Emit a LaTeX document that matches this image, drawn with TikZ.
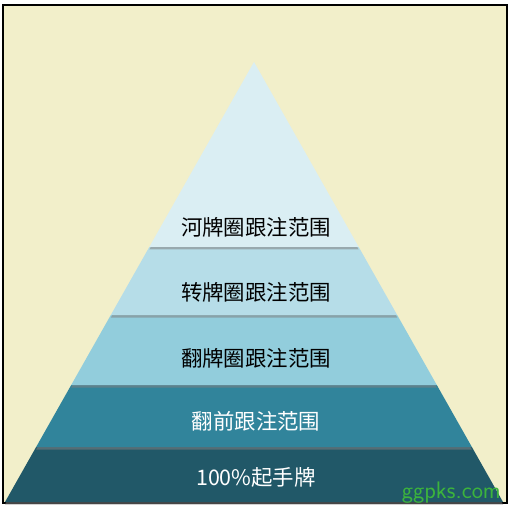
\documentclass[tikz,border=0pt]{standalone}
\usepackage{fontspec}
\newfontfamily\cjk{Noto Sans CJK SC}
\usetikzlibrary{calc,shadows}

\definecolor{bgbeige}{HTML}{F2EFCA}
\definecolor{lvlA}{HTML}{DAEEF3}
\definecolor{lvlB}{HTML}{B6DDE8}
\definecolor{lvlC}{HTML}{92CDDC}
\definecolor{lvlD}{HTML}{31849B}
\definecolor{lvlE}{HTML}{215868}
\definecolor{markgreen}{HTML}{3CB43C}

\begin{document}
\begin{tikzpicture}[
  x=1bp, y=-1bp,
  tier/.style={drop shadow={shadow xshift=0bp, shadow yshift=-2.5bp, opacity=0.55}},
  lab/.style={font=\cjk\fontsize{21.5}{26}\selectfont, inner sep=0pt},
  labdark/.style={lab, text=black},
  lablight/.style={lab, text=white}
]
\useasboundingbox (0,0) rectangle (510,507);

% ---------------- frame ----------------
\fill[bgbeige] (3,5) rectangle (507,503);
\draw[black, line width=1.5bp] (3,5) rectangle (507,503);

% ---------------- pyramid ----------------
\coordinate (apex) at (254,62);
\coordinate (bl) at (5,502);
\coordinate (br) at (503,502);

\foreach \ytop/\ybot/\col in {447/502/lvlE, 385/447/lvlD, 315/385/lvlC,
                               247/315/lvlB, 62/247/lvlA}{
  \fill[\col, tier]
    ($(apex)!{(\ytop-62)/440}!(bl)$) -- ($(apex)!{(\ytop-62)/440}!(br)$)
    -- ($(apex)!{(\ybot-62)/440}!(br)$) -- ($(apex)!{(\ybot-62)/440}!(bl)$)
    -- cycle;
}

% ---------------- labels ----------------
\node[labdark] (river) at (256,227) {河牌圈跟注范围};
\node[labdark] (turn) at (256,292) {转牌圈跟注范围};
\node[labdark] (flop) at (256,358) {翻牌圈跟注范围};
\node[lablight] (preflop) at (256,421) {翻前跟注范围};
\node[lablight] (hands) at (256,477) {100\%起手牌};

\node[font=\sffamily\fontsize{24}{28}\selectfont, text=markgreen, inner sep=0pt,
      anchor=base east] (mark) at (501,498) {ggpks.com};
\end{tikzpicture}
\end{document}
